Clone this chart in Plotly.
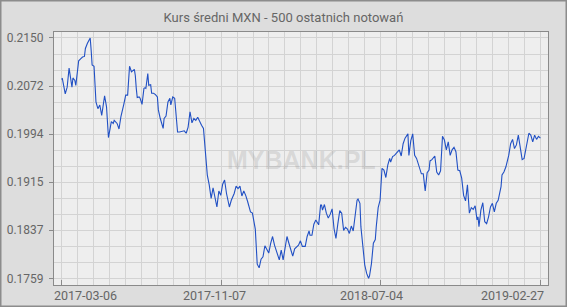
import numpy as np
import plotly.graph_objects as go

title = "Kurs średni MXN - 500 ostatnich notowań"
date_labels = ["2017-03-06", "2017-11-07", "2018-07-04", "2019-02-27"]
y_labels = ["0.1759", "0.1837", "0.1915", "0.1994", "0.2072", "0.2150"]
n_obs = 500

obs = [0, 1, 4, 6, 8, 9, 11, 12, 14, 15, 16, 17, 18, 20, 22, 24, 25, 27, 30, 31,
       32, 34, 36, 38, 40, 42, 43, 45, 47, 49, 51, 52, 54, 55, 58, 60, 62, 64, 65, 67,
       69, 71, 73, 76, 77, 78, 79, 81, 82, 84, 86, 87, 88, 90, 91, 93, 94, 96, 98, 100,
       101, 103, 106, 107, 109, 111, 113, 114, 116, 118, 120, 121, 123, 127, 128, 130, 132, 134, 136, 138,
       140, 142, 144, 146, 148, 150, 152, 154, 156, 158, 160, 162, 164, 166, 168, 170, 172, 175, 177, 180,
       182, 184, 186, 188, 190, 192, 194, 196, 197, 199, 202, 204, 206, 208, 210, 212, 214, 216, 218, 220,
       222, 225, 227, 229, 231, 233, 235, 237, 239, 241, 243, 245, 247, 249, 251, 254, 256, 258, 259, 261,
       263, 265, 268, 270, 271, 272, 274, 276, 278, 280, 282, 284, 286, 288, 290, 292, 294, 296, 298, 300,
       302, 304, 306, 308, 309, 311, 312, 314, 316, 318, 320, 321, 323, 325, 327, 328, 330, 332, 333, 334,
       336, 338, 340, 342, 343, 345, 347, 349, 352, 354, 356, 358, 361, 362, 364, 366, 368, 370, 372, 375,
       377, 379, 381, 383, 384, 386, 389, 391, 393, 395, 397, 399, 401, 403, 405, 407, 409, 411, 413, 415,
       417, 419, 421, 423, 425, 427, 429, 431, 433, 434, 435, 437, 439, 441, 443, 445, 447, 449, 451, 453,
       455, 458, 459, 461, 463, 466, 468, 470, 472, 474, 476, 478, 480, 482, 485, 487, 489, 491, 493, 495,
       497, 499]

kurs = [0.2083, 0.2084, 0.2059, 0.2070, 0.2101, 0.2087, 0.2070, 0.2085, 0.2081, 0.2073,
        0.2086, 0.2106, 0.2113, 0.2116, 0.2119, 0.2120, 0.2133, 0.2141, 0.2150, 0.2130,
        0.2106, 0.2104, 0.2046, 0.2035, 0.2041, 0.2024, 0.2033, 0.2056, 0.2038, 0.1988,
        0.2005, 0.2014, 0.2011, 0.2016, 0.2011, 0.2002, 0.2022, 0.2033, 0.2042, 0.2057,
        0.2057, 0.2104, 0.2095, 0.2099, 0.2089, 0.2068, 0.2053, 0.2054, 0.2052, 0.2042,
        0.2068, 0.2069, 0.2068, 0.2092, 0.2073, 0.2074, 0.2060, 0.2060, 0.2058, 0.2054,
        0.2033, 0.2019, 0.2003, 0.2019, 0.2023, 0.2046, 0.2052, 0.2041, 0.2054, 0.2052,
        0.2019, 0.1997, 0.1997, 0.1998, 0.1999, 0.1995, 0.2005, 0.2030, 0.2012, 0.2019,
        0.2016, 0.2021, 0.2014, 0.2008, 0.2003, 0.1970, 0.1927, 0.1911, 0.1889, 0.1906,
        0.1892, 0.1875, 0.1901, 0.1894, 0.1912, 0.1919, 0.1897, 0.1875, 0.1886, 0.1897,
        0.1909, 0.1905, 0.1909, 0.1893, 0.1901, 0.1894, 0.1884, 0.1871, 0.1867, 0.1865,
        0.1839, 0.1782, 0.1776, 0.1790, 0.1794, 0.1812, 0.1807, 0.1800, 0.1816, 0.1827,
        0.1813, 0.1797, 0.1789, 0.1805, 0.1789, 0.1808, 0.1827, 0.1816, 0.1807, 0.1795,
        0.1807, 0.1810, 0.1813, 0.1820, 0.1811, 0.1811, 0.1827, 0.1836, 0.1829, 0.1829,
        0.1847, 0.1854, 0.1846, 0.1878, 0.1878, 0.1870, 0.1879, 0.1865, 0.1857, 0.1863,
        0.1872, 0.1840, 0.1824, 0.1848, 0.1869, 0.1865, 0.1837, 0.1842, 0.1839, 0.1832,
        0.1844, 0.1836, 0.1862, 0.1886, 0.1888, 0.1881, 0.1843, 0.1808, 0.1781, 0.1767,
        0.1759, 0.1763, 0.1783, 0.1816, 0.1822, 0.1843, 0.1874, 0.1886, 0.1919, 0.1938,
        0.1935, 0.1923, 0.1943, 0.1954, 0.1948, 0.1957, 0.1959, 0.1963, 0.1968, 0.1958,
        0.1978, 0.1987, 0.1994, 0.1959, 0.1983, 0.1994, 0.1959, 0.1954, 0.1943, 0.1929,
        0.1929, 0.1901, 0.1931, 0.1935, 0.1950, 0.1952, 0.1958, 0.1932, 0.1927, 0.1934,
        0.1990, 0.1984, 0.1968, 0.1981, 0.1959, 0.1968, 0.1972, 0.1965, 0.1935, 0.1934,
        0.1922, 0.1894, 0.1885, 0.1911, 0.1865, 0.1874, 0.1871, 0.1877, 0.1854, 0.1859,
        0.1843, 0.1870, 0.1882, 0.1851, 0.1848, 0.1859, 0.1875, 0.1881, 0.1867, 0.1881,
        0.1886, 0.1908, 0.1927, 0.1932, 0.1940, 0.1959, 0.1978, 0.1985, 0.1970, 0.1976,
        0.1992, 0.1973, 0.1952, 0.1954, 0.1976, 0.1995, 0.1992, 0.1981, 0.1992, 0.1985,
        0.1990, 0.1987]

W, H = 567, 307
ML, MR, MT, MB = 54, 19, 32, 22
PW, PH = W - ML - MR, H - MT - MB

last = n_obs - 1
ymin, ymax = float(y_labels[0]), float(y_labels[-1])
ystep = (ymax - ymin) / 5
xtickvals = list(np.linspace(0, last, len(date_labels)))
ytickvals = list(np.linspace(ymin, ymax, len(y_labels)))

px_x = (last) / (540.7 - 61.7)  # index units per pixel
x_range = [-7.4 * px_x, last + 7.6 * px_x]
px_y = (ymax - ymin) / 240.6
y_range = [ymin - 6.7 * px_y, ymax + 6.0 * px_y]

fig = go.Figure()
fig.add_trace(go.Scatter(
    x=obs, y=kurs, mode="lines",
    line=dict(color="#2150c4", width=1.1),
    hoverinfo="skip", showlegend=False,
))

font_fam = "Roboto, Arial, sans-serif"
grid_col = "#d3d3d3"
axis_col = "#8a8a8a"
label_col = "#666666"

# date labels: placed as the source chart does (edge labels kept inside the frame)
label_centers_px = [85.8, 214.0, 371.7, 512.7]
date_annots = [dict(
    text=t, xref="paper", yref="paper",
    x=(cx - ML) / PW, y=(MT + PH - 295) / PH,
    xanchor="center", yanchor="middle", showarrow=False,
    font=dict(family=font_fam, size=12.5, color=label_col),
) for t, cx in zip(date_labels, label_centers_px)]

fig.update_layout(
    width=W, height=H,
    margin=dict(l=ML, r=MR, t=MT, b=MB, pad=0, autoexpand=False),
    paper_bgcolor="#dddddd",
    plot_bgcolor="#eeeeee",
    title=dict(text=title, x=0.5, xref="container", xanchor="center",
               y=1 - 17.5 / H, yref="container", yanchor="middle",
               font=dict(family=font_fam, size=13, color=label_col)),
    xaxis=dict(
        range=x_range, tickmode="array", tickvals=xtickvals,
        ticktext=[""] * len(date_labels), automargin=False,
        ticks="inside", ticklen=5, tickcolor=axis_col, tickwidth=1,
        showgrid=True, gridcolor=grid_col, gridwidth=1,
        minor=dict(tick0=0, dtick=last / 30, showgrid=True, gridcolor=grid_col, gridwidth=1),
        showline=True, linecolor=axis_col, linewidth=1, mirror=True,
        zeroline=False,
    ),
    yaxis=dict(
        range=y_range, tickmode="array", tickvals=ytickvals, ticktext=y_labels,
        automargin=False,
        ticks="outside", ticklen=4, tickcolor=axis_col, tickwidth=1,
        ticklabelstandoff=3,
        showgrid=True, gridcolor=grid_col, gridwidth=1,
        minor=dict(tick0=ymin, dtick=ystep / 3, showgrid=True, gridcolor=grid_col, gridwidth=1),
        showline=True, linecolor=axis_col, linewidth=1, mirror=True,
        zeroline=False,
        tickfont=dict(family=font_fam, size=12, color=label_col),
    ),
    annotations=date_annots + [dict(
        text="<b>MYBANK.PL</b>", xref="paper", yref="paper", x=0.5, y=0.495,
        xanchor="center", yanchor="middle", showarrow=False,
        font=dict(family="Liberation Sans, Arial, sans-serif", size=25,
                  color="rgba(150,150,150,0.27)"),
    )],
    shapes=[dict(
        type="rect", xref="paper", yref="paper",
        x0=(0.75 - ML) / PW, x1=(W - 0.75 - ML) / PW,
        y0=-(MB - 0.75) / PH, y1=(H - MB - 0.75) / PH,
        line=dict(color="#8c8c8c", width=1.5), fillcolor="rgba(0,0,0,0)",
        layer="above",
    )],
)

fig.write_html("out.html")
